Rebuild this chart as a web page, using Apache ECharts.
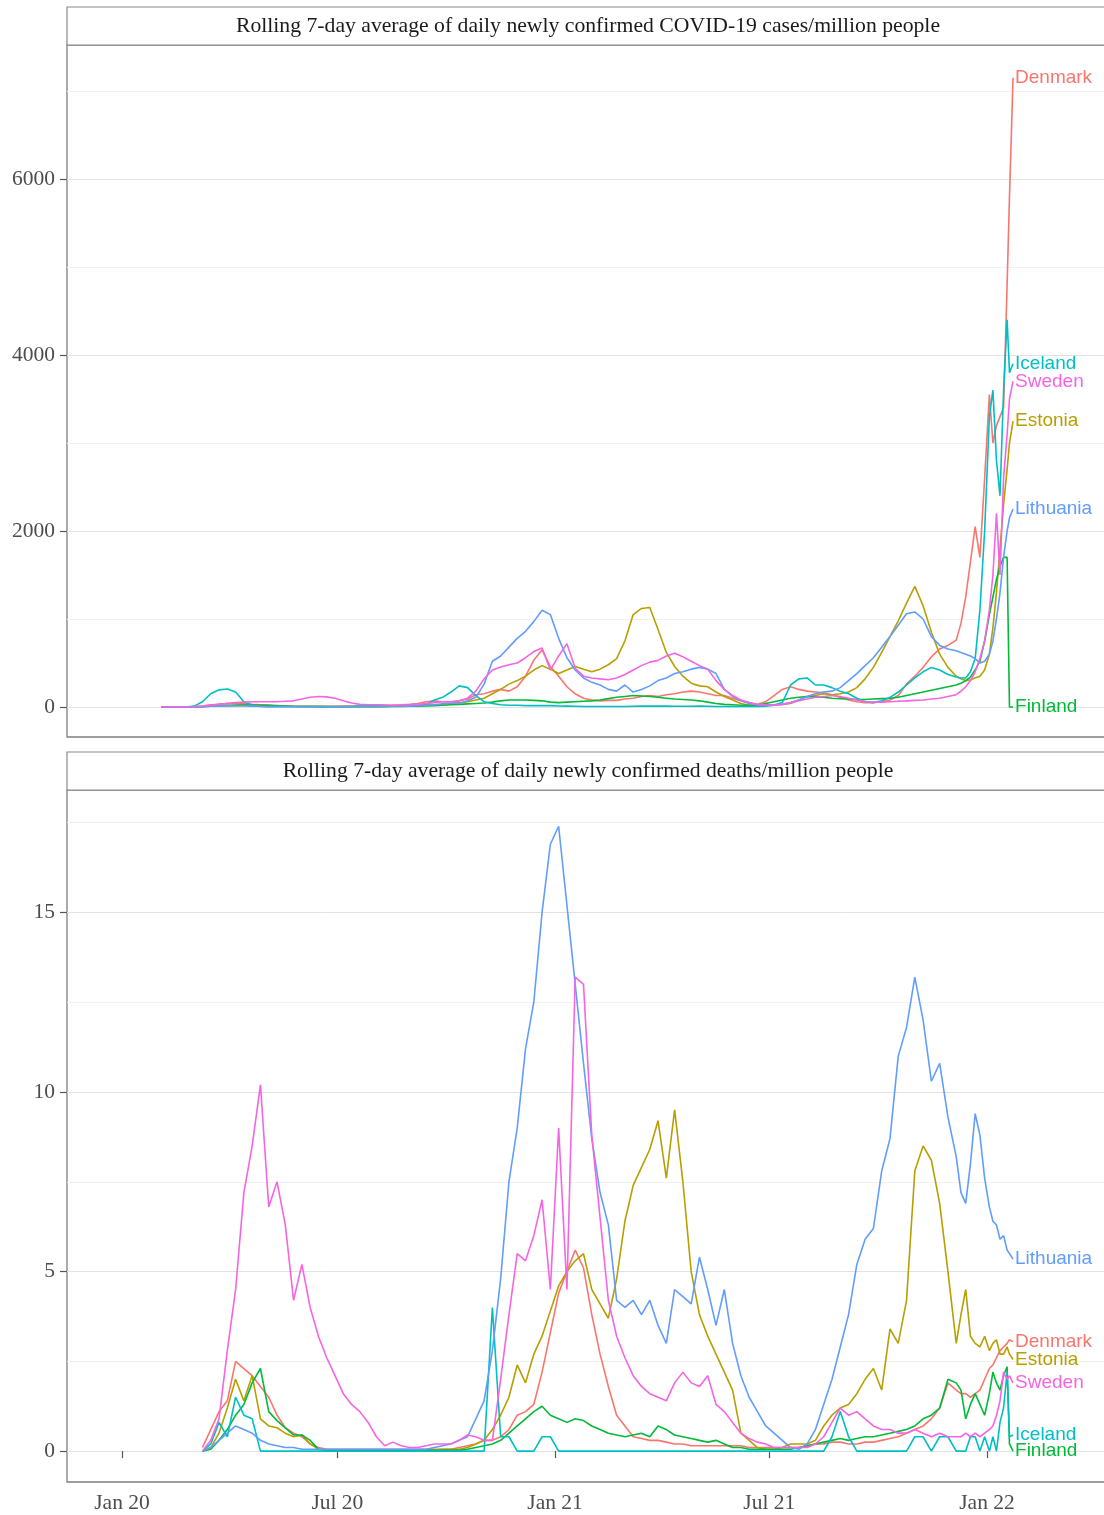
<!DOCTYPE html>
<html>
<head>
<meta charset="utf-8">
<script src="https://cdn.jsdelivr.net/npm/echarts@6/dist/echarts.min.js"></script>
<style>html,body{margin:0;padding:0;background:#fff;overflow:hidden}#chart{width:1104px;height:1515px}</style>
</head>
<body>
<div id="chart"></div>
<script>
// ---------------- DATA ----------------
const countries = ['Denmark', 'Estonia', 'Finland', 'Iceland', 'Lithuania', 'Sweden'];
const colors = ['#F8766D', '#B79F00', '#00BA38', '#00BFC4', '#619CFF', '#F564E3'];

// observation dates: weekly from 2020-02-03 (97 weeks), then denser in Dec 2021 / Jan 2022
const weeklyStart = '2020-02-03';
const weeklyCount = 97;
const lateDates = ['2021-12-10','2021-12-14','2021-12-18','2021-12-22','2021-12-26','2021-12-30',
  '2022-01-03','2022-01-06','2022-01-09','2022-01-12','2022-01-15','2022-01-18','2022-01-20','2022-01-23'];

// Rolling 7-day average of daily new cases per million
const casesDenmark = [0,0,0,0,2,10,25,30,40,45,
 40,30,25,20,12,10,8,8,8,8,
 8,8,10,10,12,15,18,20,22,25,
 30,40,60,70,60,60,70,90,140,150,
 180,200,180,230,350,530,650,460,350,230,
 150,100,80,70,75,75,90,100,120,130,
 120,140,150,170,180,170,150,130,130,100,
 70,50,30,60,130,200,230,200,180,170,
 160,140,110,80,60,50,50,60,80,130,
 260,350,450,570,660,700,760,
 950,1250,1650,2050,1700,2600,3550,3000,3200,3300,3400,4800,5800,7150];
const casesEstonia = [0,0,0,0,0,5,15,30,40,35,
 30,25,20,15,10,8,6,5,5,5,
 5,5,5,5,5,5,5,8,10,12,
 15,20,25,25,30,40,50,60,80,100,
 150,200,260,300,350,420,470,430,380,420,
 460,430,400,430,480,550,750,1050,1120,1130,
 880,620,460,350,270,240,230,170,120,80,
 40,20,20,20,25,30,40,80,120,130,
 150,140,150,170,220,320,450,620,800,980,
 1180,1370,1150,850,600,450,350,
 320,300,310,330,350,420,600,900,1300,1800,2300,2700,3000,3250];
const casesFinland = [0,0,0,0,0,3,8,12,15,18,
 20,22,20,18,15,12,8,6,5,4,
 3,3,3,3,3,3,3,4,5,6,
 8,10,12,15,20,25,30,35,40,45,
 55,70,80,80,80,75,70,55,50,55,
 60,65,70,80,95,110,120,130,125,120,
 110,100,90,85,80,70,55,40,30,25,
 20,18,20,40,60,80,100,110,120,115,
 110,100,95,90,85,85,90,95,100,110,
 130,150,170,190,210,230,250,
 270,300,340,420,520,750,1050,1250,1450,1600,1700,1700,0,0];
const casesIceland = [0,0,0,0,10,60,150,195,205,170,
 60,20,5,3,2,2,2,2,2,2,
 2,2,2,5,10,15,20,15,10,10,
 15,20,30,80,110,170,240,220,130,60,
 40,25,20,20,15,15,15,15,12,10,
 8,5,5,5,5,5,5,8,10,12,
 10,10,8,8,8,10,8,5,5,5,
 5,5,5,10,20,50,250,320,330,250,
 250,220,180,150,100,60,50,70,110,170,
 250,330,400,450,420,370,340,
 330,330,400,550,1100,2000,3300,3600,2800,2400,3600,4400,3800,3900];
const casesLithuania = [0,0,0,0,0,2,8,12,15,12,
 12,10,8,6,5,5,5,5,5,5,
 5,5,5,5,5,5,6,8,10,10,
 10,15,20,25,35,45,40,70,110,260,
 520,580,680,780,860,970,1100,1050,780,560,
 420,330,280,250,200,180,250,170,200,240,
 300,330,380,400,430,450,430,380,200,120,
 70,40,25,25,25,30,50,80,120,150,
 170,180,220,300,380,470,560,680,800,930,
 1060,1080,1000,800,700,660,640,
 620,600,580,550,500,520,600,750,1000,1300,1700,2000,2150,2250];
const casesSweden = [0,0,0,0,2,10,20,30,40,50,
 55,60,60,60,60,65,70,90,110,120,
 115,100,70,45,30,25,25,22,20,22,
 25,30,40,50,60,60,70,100,180,320,
 420,455,480,500,560,630,670,420,580,720,
 440,350,330,320,310,330,370,420,470,510,
 530,580,610,570,520,470,430,300,200,130,
 80,50,25,20,20,30,50,70,90,110,
 120,130,120,100,80,60,55,55,60,65,
 70,75,80,90,100,120,140,
 180,230,300,400,550,750,1100,1500,2200,1500,2600,3100,3500,3700];

// Rolling 7-day average of daily new deaths per million
const deathsDenmark = [null,null,null,null,null,0.1,0.6,1.1,1.4,2.5,
 2.3,2.1,1.8,1.5,1.0,0.65,0.5,0.4,0.2,0.1,
 0.05,0.05,0.05,0.05,0.05,0.05,0.05,0.05,0.05,0.05,
 0.05,0.05,0.05,0.05,0.05,0.05,0.1,0.15,0.2,0.3,
 0.3,0.4,0.6,1.0,1.1,1.3,2.2,3.3,4.4,5.0,
 5.6,5.1,3.8,2.7,1.8,1.0,0.7,0.4,0.35,0.3,
 0.3,0.25,0.2,0.2,0.15,0.15,0.15,0.15,0.15,0.15,
 0.15,0.1,0.1,0.1,0.1,0.1,0.1,0.1,0.15,0.2,
 0.2,0.25,0.25,0.2,0.2,0.25,0.25,0.3,0.35,0.4,
 0.5,0.6,0.7,0.9,1.2,1.9,1.7,
 1.6,1.6,1.5,1.6,1.7,2.0,2.3,2.4,2.6,2.8,2.9,3.0,3.1,3.05];
const deathsEstonia = [null,null,null,null,null,0,0.1,0.5,1.2,2.0,
 1.4,2.1,0.9,0.7,0.65,0.5,0.4,0.45,0.2,0.05,
 0.03,0.03,0.03,0.03,0.03,0.03,0.03,0.03,0.03,0.03,
 0.03,0.03,0.03,0.03,0.05,0.05,0.05,0.1,0.2,0.3,
 0.6,1.0,1.5,2.4,1.9,2.7,3.2,3.9,4.6,5.0,
 5.3,5.5,4.5,4.1,3.7,4.8,6.4,7.4,7.9,8.4,
 9.2,7.6,9.5,7.5,5.0,3.8,3.2,2.7,2.2,1.7,
 0.5,0.3,0.1,0.05,0.05,0.1,0.2,0.2,0.2,0.3,
 0.7,1.0,1.2,1.3,1.6,2.0,2.3,1.7,3.4,3.0,
 4.2,7.8,8.5,8.1,6.9,5.0,3.0,
 3.8,4.5,3.2,3.0,2.9,3.2,2.8,3.0,3.1,2.7,2.7,2.9,2.7,2.55];
const deathsFinland = [null,null,null,null,null,0,0.05,0.3,0.6,1.0,
 1.3,1.9,2.3,1.1,0.85,0.65,0.45,0.45,0.3,0.05,
 0.02,0.02,0.02,0.02,0.02,0.02,0.02,0.02,0.02,0.02,
 0.02,0.02,0.02,0.02,0.02,0.02,0.02,0.05,0.1,0.15,
 0.2,0.3,0.5,0.7,0.9,1.1,1.25,1.0,0.9,0.8,
 0.9,0.85,0.7,0.6,0.5,0.45,0.4,0.45,0.5,0.4,
 0.7,0.6,0.45,0.4,0.35,0.3,0.25,0.3,0.2,0.1,
 0.1,0.05,0.05,0.05,0.05,0.05,0.05,0.1,0.15,0.2,
 0.25,0.3,0.35,0.3,0.35,0.4,0.4,0.45,0.5,0.55,
 0.6,0.7,0.9,1.0,1.2,2.0,1.9,
 1.7,0.9,1.3,1.6,1.3,1.0,1.6,2.2,1.9,1.7,2.1,2.35,0.2,0];
const deathsIceland = [null,null,null,null,null,0,0.2,0.8,0.4,1.5,
 1.0,0.9,0,0,0,0,0,0,0,0,
 0,0,0,0,0,0,0,0,0,0,
 0,0,0,0,0,0,0,0,0,0,
 4.0,0.4,0.4,0,0,0,0.4,0.4,0,0,
 0,0,0,0,0,0,0,0,0,0,
 0,0,0,0,0,0,0,0,0,0,
 0,0,0,0,0,0,0,0,0,0,
 0,0.4,1.1,0.4,0,0,0,0,0,0,
 0,0.4,0.4,0,0.4,0.4,0,
 0,0,0.4,0.4,0,0.4,0,0.4,0,0.8,1.2,2.2,0.4,0.45];
const deathsLithuania = [null,null,null,null,null,0,0.1,0.3,0.5,0.7,
 0.6,0.5,0.3,0.2,0.15,0.1,0.1,0.05,0.05,0.05,
 0.05,0.05,0.05,0.05,0.05,0.05,0.05,0.05,0.05,0.05,
 0.05,0.05,0.05,0.1,0.15,0.2,0.3,0.4,0.9,1.4,
 2.8,4.8,7.5,9.0,11.2,12.5,15.0,16.9,17.4,15.2,
 13.0,10.8,8.7,7.2,6.3,4.2,4.0,4.2,3.8,4.2,
 3.5,3.0,4.5,4.3,4.1,5.4,4.5,3.5,4.5,3.0,
 2.1,1.5,1.1,0.7,0.5,0.3,0.1,0.05,0.2,0.6,
 1.3,2.0,2.9,3.8,5.2,5.9,6.2,7.8,8.7,11.0,
 11.8,13.2,12.0,10.3,10.8,9.3,8.2,
 7.2,6.9,8.0,9.4,8.8,7.6,6.8,6.4,6.3,5.9,6.0,5.6,5.5,5.35];
const deathsSweden = [null,null,null,null,null,0,0.3,0.9,2.8,4.5,
 7.2,8.5,10.2,6.8,7.5,6.3,4.2,5.2,4.0,3.2,
 2.6,2.1,1.6,1.3,1.1,0.8,0.4,0.15,0.25,0.15,
 0.1,0.1,0.15,0.2,0.2,0.2,0.3,0.45,0.4,0.3,
 0.3,2.0,3.8,5.5,5.3,6.0,7.0,4.5,9.0,4.5,
 13.2,13.0,8.8,6.5,4.2,3.2,2.6,2.1,1.8,1.6,
 1.5,1.4,1.9,2.2,1.9,1.8,2.1,1.3,1.1,0.8,
 0.5,0.35,0.25,0.2,0.1,0.1,0.1,0.1,0.1,0.2,
 0.4,0.8,1.2,1.0,1.1,0.9,0.7,0.6,0.6,0.5,
 0.5,0.6,0.5,0.4,0.5,0.4,0.4,
 0.4,0.5,0.4,0.5,0.4,0.5,0.6,0.7,1.0,1.4,2.2,2.0,2.1,1.9];

// panel titles and ticks
const panelTitles = ['Rolling 7-day average of daily newly confirmed COVID-19 cases/million people',
                     'Rolling 7-day average of daily newly confirmed deaths/million people'];
const caseTicks = [0, 2000, 4000, 6000];
const caseGrid = [0, 1000, 2000, 3000, 4000, 5000, 6000, 7000];
const deathTicks = [0, 5, 10, 15];
const deathGrid = [0, 2.5, 5, 7.5, 10, 12.5, 15, 17.5];
const xTickDates = ['2020-01-01', '2020-07-01', '2021-01-01', '2021-07-01', '2022-01-01'];
const xTickLabels = ['Jan 20', 'Jul 20', 'Jan 21', 'Jul 21', 'Jan 22'];

// ---------------- BUILD ----------------
const DAY = 86400000;
const toTs = s => Date.parse(s + 'T00:00:00Z');
const dates = [];
for (let i = 0; i < weeklyCount; i++) dates.push(toTs(weeklyStart) + i * 7 * DAY);
lateDates.forEach(s => dates.push(toTs(s)));

const casesData = [casesDenmark, casesEstonia, casesFinland, casesIceland, casesLithuania, casesSweden];
const deathsData = [deathsDenmark, deathsEstonia, deathsFinland, deathsIceland, deathsLithuania, deathsSweden];

// panel spans beyond the right edge of the page (cut off, like the original)
const PANEL_W = 1100;
const PX_PER_DAY = 1.18331;
const xTickTs = xTickDates.map(toTs);
const xMin = toTs('2020-01-01') - 46.48 * DAY;
const xMax = xMin + (PANEL_W / PX_PER_DAY) * DAY;

const serif = '"Liberation Serif", "Times New Roman", serif';
const sans = '"Liberation Sans", Arial, sans-serif';
const TEXT_GREY = '#4d4d4d';
const BORDER = '#7f7f7f';

const grids = [
  { left: 67, top: 45, width: PANEL_W, height: 692 },
  { left: 67, top: 790, width: PANEL_W, height: 692 }
].map(g => Object.assign(g, { show: true, borderColor: BORDER, borderWidth: 1.3, backgroundColor: 'transparent',
                               containLabel: false, outerBoundsMode: 'none' }));

function gridAxis(gridIndex, min, max, gridVals) {
  return {
    type: 'value', gridIndex, min, max, position: 'left',
    axisLine: { show: false },
    axisTick: { show: false, customValues: gridVals },
    axisLabel: { show: false, customValues: gridVals },
    splitLine: { show: true, lineStyle: { color: ['#e2e2e2', '#f1f1f1'], width: 1 } }
  };
}
function labelAxis(gridIndex, min, max, ticks) {
  return {
    type: 'value', gridIndex, min, max, position: 'left',
    axisLine: { show: false },
    axisTick: { show: true, customValues: ticks, length: 7, lineStyle: { color: '#555', width: 1.2 } },
    axisLabel: { show: true, customValues: ticks, margin: 12, color: TEXT_GREY, fontFamily: serif, fontSize: 21.5,
                 formatter: v => String(v) },
    splitLine: { show: false }
  };
}

const yAxis = [
  gridAxis(0, -341, 7523, caseGrid),
  labelAxis(0, -341, 7523, caseTicks),
  gridAxis(1, -0.86, 18.41, deathGrid),
  labelAxis(1, -0.86, 18.41, deathTicks)
];

const xAxis = [
  { type: 'value', gridIndex: 0, min: xMin, max: xMax,
    axisLine: { show: false }, axisTick: { show: false }, axisLabel: { show: false }, splitLine: { show: false } },
  { type: 'value', gridIndex: 1, min: xMin, max: xMax,
    axisLine: { show: false },
    axisTick: { show: true, customValues: xTickTs, length: 7, lineStyle: { color: '#555', width: 1.2 } },
    axisLabel: { show: true, customValues: xTickTs, margin: 10, color: TEXT_GREY, fontFamily: serif, fontSize: 21.5,
      formatter: v => { const i = xTickTs.indexOf(v); return i >= 0 ? xTickLabels[i] : ''; } },
    splitLine: { show: false } }
];

const series = [];
[casesData, deathsData].forEach((set, panel) => {
  set.forEach((vals, i) => {
    series.push({
      name: countries[i],
      type: 'line',
      xAxisIndex: panel,
      yAxisIndex: panel * 2,
      data: dates.map((d, k) => [d, vals[k]]),
      showSymbol: false,
      symbol: 'none',
      connectNulls: false,
      lineStyle: { color: colors[i], width: 1.6 },
      itemStyle: { color: colors[i] },
      endLabel: { show: true, formatter: p => p.seriesName, color: colors[i], fontFamily: sans, fontSize: 19, distance: 2 },
      emphasis: { disabled: true },
      z: 2 + i
    });
  });
});

const graphic = [];
[[7, 45], [752, 790]].forEach(([y0, y1], p) => {
  graphic.push({
    type: 'rect', shape: { x: 67, y: y0, width: PANEL_W, height: y1 - y0 },
    style: { fill: '#ffffff', stroke: '#8a8a8a', lineWidth: 1.2 }, z: 10
  });
  graphic.push({
    type: 'text', x: 588, y: (y0 + y1) / 2,
    style: { text: panelTitles[p], fill: '#1a1a1a', font: '21.7px ' + serif, textAlign: 'center', textVerticalAlign: 'middle' },
    z: 11
  });
});

const chart = echarts.init(document.getElementById('chart'), null, { renderer: 'canvas' });
chart.setOption({
  backgroundColor: '#ffffff',
  animation: false,
  grid: grids,
  xAxis, yAxis, series, graphic,
  legend: { show: false },
  tooltip: { show: false }
});
</script>
</body>
</html>
